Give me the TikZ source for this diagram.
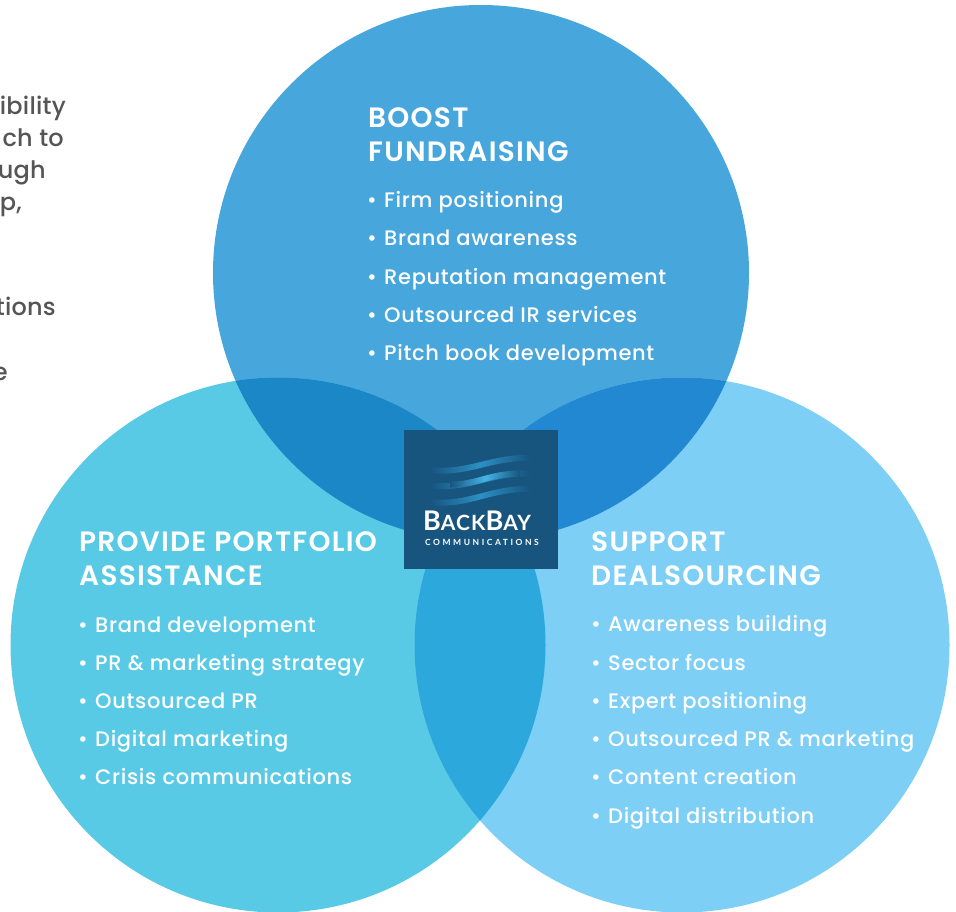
\documentclass[tikz,border=0pt]{standalone}
\usepackage{fontspec}
\setmainfont{Poppins}
\newfontfamily\itemf[LetterSpace=3.2,Ligatures=NoCommon]{Poppins Medium}
\newfontfamily\headf[LetterSpace=4.5,Ligatures=NoCommon]{Poppins SemiBold}
\newfontfamily\sidef[LetterSpace=1,Ligatures=NoCommon]{Poppins Medium}
\newfontfamily\logof[LetterSpace=5]{Lato Bold}
\definecolor{topc}{HTML}{47A6DB}
\definecolor{leftc}{HTML}{59CAE5}
\definecolor{rightc}{HTML}{7DCFF6}
\definecolor{tlc}{HTML}{1B87C6}
\definecolor{trc}{HTML}{2388D2}
\definecolor{lrc}{HTML}{2DA8DC}
\definecolor{logoc}{HTML}{17557F}
\definecolor{sidec}{HTML}{555555}
\definecolor{waveb}{HTML}{45B4E6}
\definecolor{wavea}{HTML}{2D8FC4}
\tikzset{
  x=1pt,y=-1pt,
  head/.style={anchor=base west,inner sep=0pt,text=white,font=\headf\fontsize{28}{28}\selectfont},
  item/.style={anchor=base west,inner sep=0pt,text=white,font=\itemf\fontsize{21}{21}\selectfont},
  dotm/.style={anchor=base west,inner sep=0pt,text=white,font=\itemf\fontsize{21}{21}\selectfont},
  side/.style={anchor=base east,inner sep=0pt,text=sidec,font=\sidef\fontsize{24}{24}\selectfont},
  logotxt/.style={anchor=base west,inner sep=0pt,text=white},
}
\newcommand{\bul}[5]{% name, bullet x, text x, baseline, text
  \node[dotm] (#1d) at (#2-1,#4-0.5) {•};
  \node[item] (#1) at (#3,#4-0.5) {#5};
}
\begin{document}
\begin{tikzpicture}
\useasboundingbox (0,0) rectangle (956,912);
\fill[white] (0,0) rectangle (956,912);
% side fragments
\node[side] (s1) at (66,115) {ibility};
\node[side] (s2) at (64,147) {ch to};
\node[side] (s3) at (46,179) {ugh};
\node[side] (s4) at (22,211) {p,};
\node[side] (s5) at (56,315) {tions};
\node[side] (s6) at (8,380) {e};
% circles
\fill[topc] (481,273) circle (268);
\fill[leftc] (278,645) circle (267.5);
\fill[rightc] (682,645) circle (267.5);
\begin{scope}
  \clip (481,273) circle (268);
  \fill[tlc] (278,645) circle (267.5);
\end{scope}
\begin{scope}
  \clip (481,273) circle (268);
  \fill[trc] (682,645) circle (267.5);
\end{scope}
\begin{scope}
  \clip (278,645) circle (267.5);
  \fill[lrc] (682,645) circle (267.5);
\end{scope}
% logo
\node[fill=logoc,draw=none,minimum width=154,minimum height=139,inner sep=0pt,anchor=north west] (logo) at (404,430) {};
\foreach \yy/\dd in {0/0,15.5/0,31/1}{
  \shade[left color=logoc,right color=logoc,middle color=wavea]
    (430,467+\yy+\dd) .. controls (470,471+\yy+\dd) and (490,454+\yy) .. (530,455+\yy)
    -- (530,461+\yy) .. controls (490,460+\yy) and (470,477+\yy+\dd) .. (430,473+\yy+\dd) -- cycle;
}
\shade[left color=logoc,right color=logoc,middle color=waveb]
    (450,481.5) .. controls (475,482) and (490,470.5) .. (520,470.5)
    -- (520,476.5) .. controls (490,476.5) and (475,488) .. (450,487.5) -- cycle;
\node[logotxt,font=\logof\fontsize{27}{27}\selectfont] (bb) at (423,530) {B{\fontsize{21}{21}\selectfont ACK}B{\fontsize{21}{21}\selectfont AY}};
\node[logotxt,font=\logof\fontsize{8.5}{8.5}\selectfont] (comm) at (425,545.5) {\addfontfeature{LetterSpace=30}COMMUNICATIONS};
% top
\node[head] (t1) at (368,128) {BOOST};
\node[head] (t2) at (368,162) {FUNDRAISING};
\bul{ta}{368}{384}{208}{Firm positioning}
\bul{tb}{368}{384}{246}{Brand awareness}
\bul{tc}{368}{384}{285}{Reputation management}
\bul{td}{368}{384}{323}{Outsourced IR services}
\bul{te}{368}{384}{361}{Pitch book development}
% left
\node[head] (l1) at (79,551.5) {PROVIDE PORTFOLIO};
\node[head] (l2) at (79,585.5) {ASSISTANCE};
\bul{la}{79}{95}{633}{Brand development}
\bul{lb}{79}{95}{671}{PR \& marketing strategy}
\bul{lc}{79}{95}{709}{Outsourced PR}
\bul{ld}{79}{95}{747}{Digital marketing}
\bul{le}{79}{95}{785}{Crisis communications}
% right
\node[head] (r1) at (591,551.5) {SUPPORT};
\node[head] (r2) at (591,585.5) {DEALSOURCING};
\bul{ra}{592}{608}{632}{Awareness building}
\bul{rb}{592}{608}{671}{Sector focus}
\bul{rc}{592}{608}{709}{Expert positioning}
\bul{rd}{592}{608}{747}{Outsourced PR \& marketing}
\bul{re}{592}{608}{785}{Content creation}
\bul{rf}{592}{608}{824}{Digital distribution}
\end{tikzpicture}
\end{document}
